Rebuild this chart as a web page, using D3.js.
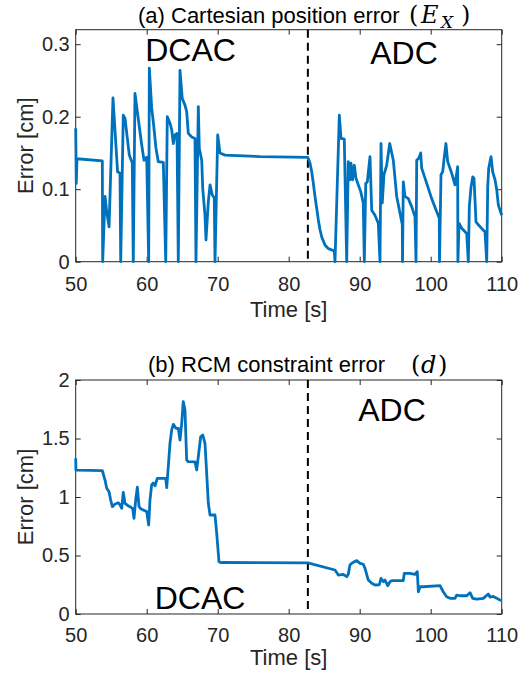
<!DOCTYPE html>
<html><head><meta charset="utf-8">
<script src="https://cdn.jsdelivr.net/npm/d3@7"></script>
<style>body{margin:0;background:#fff}svg{display:block}</style>
</head><body>
<script>
// ---------- data ----------
const xTicks = [50, 60, 70, 80, 90, 100, 110];
const yTicksA = [0, 0.1, 0.2, 0.3];
const yTicksB = [0, 0.5, 1, 1.5, 2];
const xDomain = [50, 110];
const yDomainA = [0, 0.32];
const yDomainB = [0, 2];
const switchTime = 82.7;

const timeA = [50.00,50.08,50.18,53.75,53.80,54.13,54.40,54.70,55.25,55.90,56.24,56.34,56.70,56.94,57.55,57.97,58.11,58.35,58.80,59.30,59.62,60.00,60.28,60.37,60.70,60.93,61.30,61.63,62.34,62.68,62.90,63.28,63.52,63.75,63.99,64.27,64.45,64.69,65.01,65.39,65.63,65.86,66.34,66.80,66.94,67.27,67.41,67.75,67.89,68.21,68.35,68.68,68.92,69.24,69.52,69.62,70.00,70.32,71.03,76.00,82.68,83.00,83.24,83.47,83.70,83.94,84.17,84.41,84.65,85.11,85.58,86.42,86.52,87.13,87.37,87.83,88.17,88.39,88.63,88.77,89.00,89.24,89.48,89.80,90.14,90.50,90.65,90.85,91.07,91.45,91.69,92.15,92.62,92.86,93.00,93.18,93.42,93.80,94.23,94.73,95.21,95.68,96.00,96.03,96.14,96.38,96.85,97.32,97.79,97.93,98.03,98.35,98.59,98.73,99.44,100.14,100.85,101.21,101.24,101.45,101.69,101.92,102.15,102.39,102.96,103.42,103.80,103.83,103.99,104.37,105.07,105.30,105.44,105.68,105.92,106.10,106.24,106.38,106.70,107.18,107.65,107.89,108.03,108.17,108.35,108.50,108.73,109.06,109.30,109.53,110.00];
const errA = [0.184,0.108,0.142,0.139,0,0.090,0.067,0.048,0.226,0.124,0.122,0,0.202,0.198,0.147,0.136,0,0.232,0.198,0.161,0.140,0.144,0,0.267,0.212,0.193,0.157,0.138,0.137,0,0.200,0.191,0.182,0.163,0.175,0.177,0,0.264,0.225,0.216,0.207,0.177,0.172,0.170,0,0.214,0.156,0.140,0.101,0.064,0.030,0.083,0.106,0.092,0.088,0,0.175,0.150,0.147,0.145,0.144,0.136,0.124,0.108,0.090,0.074,0.058,0.044,0.034,0.023,0.018,0.015,0,0.202,0.170,0.169,0,0.138,0.113,0.136,0.113,0.133,0.115,0.106,0.097,0.081,0,0.108,0.110,0.145,0.071,0.064,0.053,0,0.163,0.081,0.120,0.133,0.163,0.140,0.090,0.067,0.051,0,0.110,0.090,0.087,0.076,0.062,0,0.140,0.143,0.150,0.129,0.108,0.087,0.069,0.060,0,0.120,0.124,0.145,0.163,0.138,0.122,0.106,0.131,0,0.053,0.046,0.039,0,0.076,0.103,0.117,0.115,0.085,0.055,0.051,0.046,0.041,0,0.103,0.129,0.138,0.145,0.124,0.113,0.099,0.078,0.064];

const timeB = [50.00,50.03,53.75,54.13,54.37,54.69,54.93,55.16,55.54,56.00,56.24,56.48,56.70,56.94,57.27,57.65,58.03,58.21,58.45,58.68,58.92,59.15,59.52,60.00,60.28,60.46,60.70,60.93,61.17,61.50,62.11,62.68,62.82,63.04,63.28,63.52,63.75,64.13,64.45,64.69,64.93,65.15,65.39,65.63,65.86,66.80,67.04,67.27,67.60,67.89,68.21,68.45,68.68,68.92,69.62,69.86,70.18,70.42,70.79,82.70,86.52,86.99,87.69,88.17,88.39,88.63,88.87,89.24,89.58,90.04,90.51,90.75,91.21,91.69,92.15,92.76,93.00,93.33,93.56,93.94,94.27,94.51,96.14,96.28,97.08,97.79,98.11,98.26,98.49,98.96,101.31,101.77,102.25,102.72,103.42,103.66,104.13,105.07,105.54,105.92,106.48,107.41,108.11,108.35,108.82,109.30,109.76,110.00];
const errB = [1.331,1.230,1.225,1.145,1.074,1.045,0.974,0.917,0.940,0.951,0.932,0.903,1.040,0.946,0.930,0.917,0.900,0.818,0.974,1.085,0.917,0.900,0.889,0.875,0.761,0.974,1.103,1.120,1.095,1.160,1.160,1.160,1.080,1.260,1.459,1.573,1.621,1.587,1.587,1.487,1.630,1.815,1.744,1.316,1.302,1.300,1.231,1.345,1.515,1.530,1.459,1.200,0.946,0.846,0.846,0.690,0.447,0.439,0.440,0.437,0.376,0.333,0.338,0.319,0.340,0.419,0.433,0.447,0.456,0.433,0.425,0.390,0.290,0.262,0.248,0.250,0.305,0.276,0.290,0.242,0.276,0.285,0.285,0.348,0.348,0.338,0.362,0.190,0.233,0.233,0.242,0.190,0.148,0.134,0.134,0.162,0.156,0.156,0.182,0.134,0.128,0.134,0.171,0.145,0.150,0.134,0.120,0.115];

const timeLabel = "Time [s]";
const errLabel = "Error [cm]";

// ---------- drawing ----------
const W = 529, H = 677;
const FONT = "'Liberation Sans', Arial, Helvetica, sans-serif";
const MATH = "'DejaVu Serif', 'Liberation Serif', serif";
const AX = "#262626";
const BLUE = "#0072BD";
const svg = d3.select("body").append("svg").attr("width", W).attr("height", H);

function panel(o) {
  const x = d3.scaleLinear().domain(xDomain).range([75.7, 501.7]);
  const y = d3.scaleLinear().domain(o.yDomain).range([o.bottom, o.top]);
  const g = svg.append("g");
  g.append("rect").attr("x", x.range()[0]).attr("y", o.top)
    .attr("width", x.range()[1] - x.range()[0]).attr("height", o.bottom - o.top)
    .attr("fill", "#fff").attr("stroke", AX).attr("stroke-width", 1);
  const ax = (gen, tr) => {
    const a = g.append("g").attr("transform", tr).call(gen);
    a.select(".domain").remove();
    a.selectAll("line").attr("stroke", AX).attr("stroke-width", 1);
    a.selectAll("text").attr("fill", AX).style("font-family", FONT).style("font-size", "20px");
    return a;
  };
  ax(d3.axisBottom(x).tickValues(xTicks).tickSize(-5).tickPadding(o.xPad).tickFormat(d => String(d)), `translate(0,${o.bottom})`);
  ax(d3.axisTop(x).tickValues(xTicks).tickSize(-5).tickFormat(""), `translate(0,${o.top})`);
  ax(d3.axisLeft(y).tickValues(o.yTicks).tickSize(-5).tickPadding(6).tickFormat(d => String(d)), `translate(${x.range()[0]},0)`);
  ax(d3.axisRight(y).tickValues(o.yTicks).tickSize(-5).tickFormat(""), `translate(${x.range()[1]},0)`);

  // switch line
  g.append("line").attr("x1", x(switchTime)).attr("x2", x(switchTime))
    .attr("y1", o.top).attr("y2", o.bottom)
    .attr("stroke", "#000").attr("stroke-width", 2).attr("stroke-dasharray", "8,5");

  // data line
  const idx = d3.range(o.t.length);
  g.append("path").datum(idx)
    .attr("d", d3.line().x(i => x(o.t[i])).y(i => y(o.v[i])))
    .attr("fill", "none").attr("stroke", BLUE).attr("stroke-width", 2.8)
    .attr("stroke-linejoin", "round");

  // axis labels
  g.append("text").attr("x", (x.range()[0] + x.range()[1]) / 2).attr("y", o.xLabelY)
    .attr("text-anchor", "middle").attr("fill", AX)
    .style("font-family", FONT).style("font-size", "22px").text(timeLabel);
  g.append("text").attr("transform", `translate(33,${(o.top + o.bottom) / 2}) rotate(-90)`)
    .attr("text-anchor", "middle").attr("fill", AX)
    .style("font-family", FONT).style("font-size", "22px").text(errLabel);

  // region labels
  o.regions.forEach(r => {
    g.append("text").attr("x", r.x).attr("y", r.y).attr("text-anchor", "middle")
      .attr("fill", "#000").style("font-family", FONT).style("font-size", "32px").text(r.text);
  });
  return g;
}

panel({ top: 29.7, bottom: 261.7, yDomain: yDomainA, yTicks: yTicksA, t: timeA, v: errA,
  xPad: 15, xLabelY: 317,
  regions: [{ text: "DCAC", x: 190.6, y: 61 }, { text: "ADC", x: 404, y: 64 }] });
panel({ top: 380, bottom: 614, yDomain: yDomainB, yTicks: yTicksB, t: timeB, v: errB,
  xPad: 14, xLabelY: 665,
  regions: [{ text: "ADC", x: 392, y: 421 }, { text: "DCAC", x: 200, y: 608.7 }] });

// titles
function title(txt, x, y) {
  return svg.append("text").attr("x", x).attr("y", y).attr("fill", "#000")
    .style("font-family", FONT).style("font-size", "22px").text(txt);
}
title("(a) Cartesian position error", 138, 23);
const mA = svg.append("text").attr("y", 23).attr("fill", "#000").style("font-family", MATH).style("font-size", "24px");
mA.append("tspan").attr("x", 409).text("(");
mA.append("tspan").attr("x", 421).style("font-style", "italic").text("E");
mA.append("tspan").attr("x", 441).attr("dy", 5).style("font-style", "italic").style("font-size", "17px").text("X");
mA.append("tspan").attr("x", 461).attr("dy", -5).text(")");

title("(b) RCM constraint error", 148, 372);
const mB = svg.append("text").attr("y", 373).attr("fill", "#000").style("font-family", MATH).style("font-size", "24px");
mB.append("tspan").attr("x", 411).text("(");
mB.append("tspan").attr("x", 421).style("font-style", "italic").text("d");
mB.append("tspan").attr("x", 438).text(")");
</script>
</body></html>
